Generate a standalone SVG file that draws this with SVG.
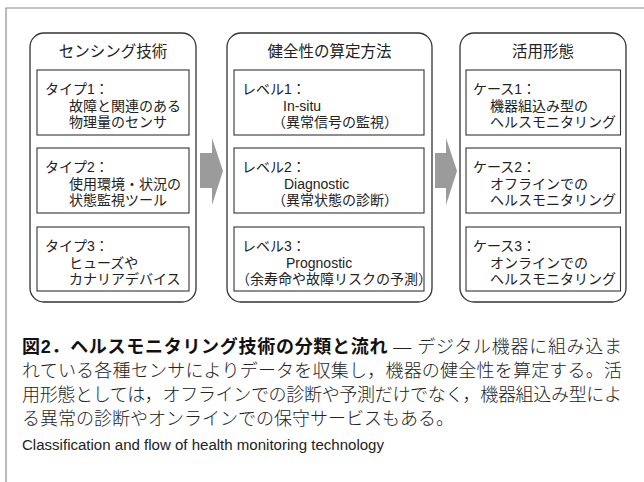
<svg xmlns="http://www.w3.org/2000/svg" width="644" height="482" viewBox="0 0 644 482">
<style>
.frame{fill:none;stroke:#8c8c8c;stroke-width:1.2}
.outer{fill:#fff;stroke:#333;stroke-width:1.3}
.inner{fill:#fff;stroke:#333;stroke-width:1.1}
.hd{font-family:"Noto Sans CJK JP",sans-serif;font-size:15.5px;fill:#222;text-anchor:middle}
.t{font-family:"Liberation Sans","Noto Sans CJK JP",sans-serif;font-size:14px;fill:#222}
.arrow{fill:#9b9b9b}
.cap{font-family:"Liberation Serif","Noto Sans CJK JP",serif;font-size:18px;fill:#222;font-weight:300}
.capb{font-family:"Liberation Sans","Noto Sans CJK JP",sans-serif;font-weight:bold;fill:#111}
.en{font-family:"Liberation Sans",sans-serif;font-size:14px;fill:#222}
</style>
<path class="frame" d="M6,482 V8 H644"/>
<g id="col1">
<rect class="outer" x="30" y="33" width="166" height="269" rx="14"/>
<text class="hd" x="113" y="57">センシング技術</text>
</g>
<g id="type1">
<rect class="inner" x="37" y="70" width="152" height="65"/>
<text class="t" x="45" y="94">タイプ1：</text>
<text class="t" x="69" y="110.5">故障と関連のある</text>
<text class="t" x="69" y="127">物理量のセンサ</text>
</g>
<g id="type2">
<rect class="inner" x="37" y="148" width="152" height="65"/>
<text class="t" x="45" y="172">タイプ2：</text>
<text class="t" x="69" y="188.5">使用環境・状況の</text>
<text class="t" x="69" y="205">状態監視ツール</text>
</g>
<g id="type3">
<rect class="inner" x="37" y="227" width="152" height="64"/>
<text class="t" x="45" y="251">タイプ3：</text>
<text class="t" x="69" y="267.5">ヒューズや</text>
<text class="t" x="69" y="284">カナリアデバイス</text>
</g>
<g id="col2">
<rect class="outer" x="227" y="33" width="205" height="269" rx="14"/>
<text class="hd" x="329.5" y="57">健全性の算定方法</text>
</g>
<g id="level1">
<rect class="inner" x="234" y="70" width="190" height="65"/>
<text class="t" x="242" y="94">レベル1：</text>
<text class="t" x="283" y="110.5">In-situ</text>
<text class="t" x="272" y="127">（異常信号の監視）</text>
</g>
<g id="level2">
<rect class="inner" x="234" y="148" width="190" height="65"/>
<text class="t" x="242" y="172">レベル2：</text>
<text class="t" x="284" y="188.5">Diagnostic</text>
<text class="t" x="272" y="205">（異常状態の診断）</text>
</g>
<g id="level3">
<rect class="inner" x="234" y="227" width="190" height="64"/>
<text class="t" x="242" y="251">レベル3：</text>
<text class="t" x="286" y="267.5">Prognostic</text>
<text class="t" x="236" y="284">（余寿命や故障リスクの予測）</text>
</g>
<g id="col3">
<rect class="outer" x="460" y="33" width="166" height="269" rx="14"/>
<text class="hd" x="543" y="57">活用形態</text>
</g>
<g id="case1">
<rect class="inner" x="466" y="70" width="154.5" height="65"/>
<text class="t" x="473" y="94">ケース1：</text>
<text class="t" x="490" y="110.5">機器組込み型の</text>
<text class="t" x="490" y="127">ヘルスモニタリング</text>
</g>
<g id="case2">
<rect class="inner" x="466" y="148" width="154.5" height="65"/>
<text class="t" x="473" y="172">ケース2：</text>
<text class="t" x="490" y="188.5">オフラインでの</text>
<text class="t" x="490" y="205">ヘルスモニタリング</text>
</g>
<g id="case3">
<rect class="inner" x="466" y="227" width="154.5" height="64"/>
<text class="t" x="473" y="251">ケース3：</text>
<text class="t" x="490" y="267.5">オンラインでの</text>
<text class="t" x="490" y="284">ヘルスモニタリング</text>
</g>
<g id="connectors">
<polygon class="arrow" points="200,153 212,153 212,138 223,171 212,205 212,188 200,188"/>
<polygon class="arrow" points="435,153 446,153 446,138 457,171 446,205 446,188 435,188"/>
</g>
<g id="caption">
<text class="cap" x="22" y="353" textLength="600" lengthAdjust="spacing"><tspan class="capb">図2．ヘルスモニタリング技術の分類と流れ</tspan> — デジタル機器に組み込ま</text>
<text class="cap" x="22" y="377" textLength="600" lengthAdjust="spacing">れている各種センサによりデータを収集し，機器の健全性を算定する。活</text>
<text class="cap" x="22" y="401" textLength="600" lengthAdjust="spacing">用形態としては，オフラインでの診断や予測だけでなく，機器組込み型によ</text>
<text class="cap" x="22" y="425">る異常の診断やオンラインでの保守サービスもある。</text>
<text class="en" x="22" y="450" textLength="362" lengthAdjust="spacingAndGlyphs">Classification and flow of health monitoring technology</text>
</g>
</svg>
